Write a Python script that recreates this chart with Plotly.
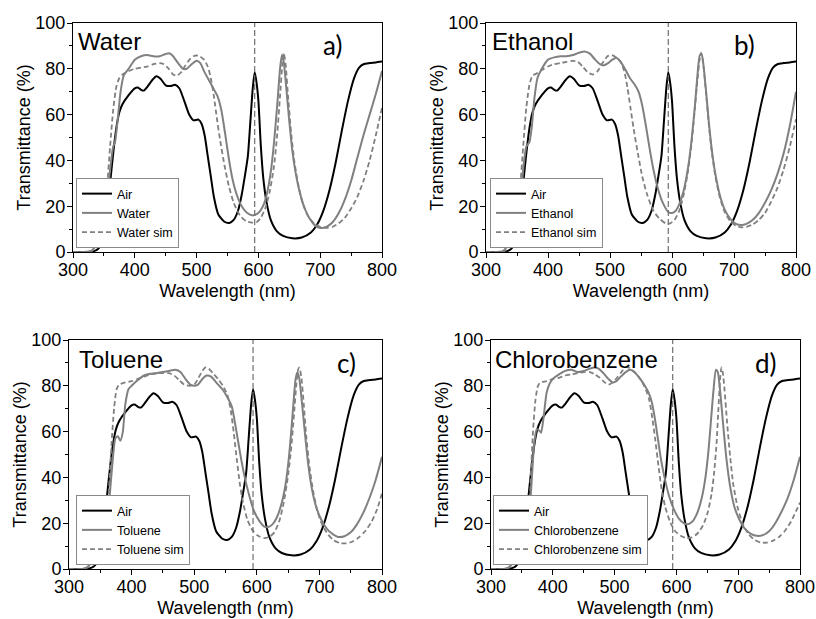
import plotly.graph_objects as go

# Air spectrum (identical measured curve in all four panels)
air_wl = [300, 320, 330, 335, 340, 345, 350, 355, 360, 365, 370, 375, 380, 390, 400, 405, 410, 415,
          420, 428, 435, 442, 450, 458, 465, 472, 480, 488, 495, 503, 508, 513, 518, 523, 528, 535,
          545, 553, 560, 567, 573, 578, 583, 587, 591, 594, 597, 600, 604, 608, 613, 620, 630, 640,
          655, 670, 685, 695, 705, 715, 725, 735, 745, 755, 763, 770, 780, 790, 800]
air_t = [0, 0, 0.2, 0.5, 1.2, 3, 8, 18, 30, 43, 54, 61, 64.5, 68.5, 71.5, 71.8, 70.8, 70.5,
         72, 75, 76.7, 75.5, 72.8, 72.5, 73, 71.5, 66, 60, 57.5, 57.8, 56, 51, 42, 33, 24, 16.5,
         13.2, 12.7, 14, 18, 25, 33, 42, 57, 72, 78.5, 74, 66, 46, 32, 22, 14, 9, 7,
         6, 6.3, 8.5, 12, 18, 27, 39, 53, 66, 76, 80.5, 82, 82.5, 82.8, 83.2]

water_wl = [300, 325, 330, 335, 338, 342, 346, 350, 355, 360, 365, 368, 372, 377, 382, 390, 400, 410,
            420, 430, 440, 450, 456, 462, 470, 478, 484, 492, 500, 506, 512, 520, 528, 534, 540, 546,
            552, 558, 565, 573, 582, 590, 597, 603, 609, 615, 621, 626, 631, 635, 638, 641, 645, 650,
            655, 660, 667, 675, 683, 692, 700, 710, 720, 730, 740, 750, 760, 770, 780, 790, 800]
water_t = [0, 0, 0.5, 2, 3, 2.5, 4, 10, 22, 36, 46, 48, 57, 70, 77, 80, 84, 85.5,
           86, 85.5, 85.5, 86.5, 86.8, 85.5, 82.5, 80, 80, 82, 83.5, 82.5, 79, 75, 71, 68, 62, 52,
           41, 32, 25, 20, 17, 16, 16.5, 18, 21, 27, 37, 50, 66, 80, 86, 83, 72, 57,
           44, 35, 26, 19, 14.5, 11.5, 10.5, 11, 13, 17, 23, 31, 41, 51, 60, 69, 79]

water_sim_wl = [300, 330, 338, 345, 350, 355, 360, 365, 370, 375, 380, 390, 400, 410, 420, 430, 440,
                447, 455, 462, 468, 475, 482, 490, 498, 505, 512, 518, 523, 528, 533, 538, 545, 552,
                560, 570, 580, 590, 597, 604, 611, 618, 625, 630, 635, 639, 641, 644, 648, 653, 658,
                664, 672, 680, 690, 700, 710, 720, 730, 740, 750, 760, 770, 780, 790, 800]
water_sim_t = [0, 0.5, 2, 6, 14, 28, 46, 62, 72, 76, 77.5, 79, 80, 80.5, 81, 82, 82.5,
               82, 80, 77.5, 77, 78.5, 81.5, 84.5, 85.8, 85.5, 84, 81, 76, 68, 58, 49, 38, 29,
               21.5, 16, 13.5, 12.8, 13, 15, 19, 26, 37, 50, 68, 83, 87, 82, 68, 52, 40,
               30, 21, 16, 12.5, 11, 10.5, 11, 12.5, 15, 19, 24, 31, 40, 51, 63]

ethanol_wl = [300, 325, 330, 335, 340, 345, 350, 355, 360, 365, 370, 374, 378, 383, 390, 400, 410,
              420, 430, 440, 450, 460, 468, 476, 484, 490, 497, 504, 510, 516, 524, 532, 540, 546,
              552, 558, 564, 570, 578, 586, 594, 600, 606, 612, 619, 626, 632, 637, 641, 645, 648,
              651, 655, 660, 665, 670, 677, 685, 694, 703, 712, 720, 730, 740, 750, 760, 770, 780,
              790, 800]
ethanol_t = [0, 0, 1, 3, 4.5, 4.5, 8, 20, 36, 46, 48, 55, 67, 76, 80, 84, 85,
             85.5, 85.5, 86, 87, 87.5, 86.5, 84, 82, 81.5, 82.5, 84, 84.8, 83.5, 80, 76, 73, 70,
             64, 55, 45, 36, 27, 21, 17.5, 17, 18, 21, 27, 37, 50, 64, 77, 86, 86,
             81, 70, 55, 43, 34, 25, 18.5, 14.5, 12.3, 11.8, 12.3, 14, 17, 21.5, 27, 34, 43,
             55, 70]

ethanol_sim_wl = [300, 330, 338, 345, 350, 355, 360, 365, 370, 375, 382, 390, 400, 410, 420, 430,
                  440, 448, 456, 464, 472, 480, 488, 496, 503, 510, 517, 523, 528, 533, 538, 545,
                  552, 560, 570, 580, 590, 597, 604, 611, 618, 625, 631, 636, 641, 645, 647, 650,
                  654, 659, 664, 670, 677, 685, 694, 703, 712, 720, 730, 740, 750, 760, 770, 780,
                  790, 800]
ethanol_sim_t = [0, 0.5, 2, 6, 14, 28, 46, 63, 73, 77, 78, 79.5, 81, 82, 82.5, 83,
                 83.5, 83, 81, 78.5, 77.5, 79, 82.5, 85.5, 86, 85, 83, 79, 72, 63, 54, 43,
                 33, 25, 18, 14.5, 12.5, 12.5, 14, 17.5, 24, 34, 46, 60, 75, 85, 87, 83,
                 72, 57, 44, 33, 24, 17.5, 13.5, 11.5, 10.8, 11, 12, 14, 17, 22, 28, 36,
                 46, 58]

toluene_wl = [300, 322, 330, 338, 344, 350, 355, 360, 365, 370, 374, 378, 382, 386, 390, 395, 400,
              410, 420, 430, 440, 450, 460, 470, 478, 486, 494, 500, 506, 513, 520, 527, 535, 545,
              553, 560, 565, 570, 575, 580, 588, 596, 604, 612, 618, 625, 632, 640, 646, 651, 655,
              659, 662, 665, 668, 672, 677, 682, 688, 695, 703, 712, 720, 730, 740, 750, 760, 770,
              780, 790, 800]
toluene_t = [0, 0, 1, 4, 7, 10, 11, 17, 32, 48, 57, 58, 56, 60, 72, 78.5, 80,
             82.5, 84.5, 85.3, 85.5, 86, 86.5, 87, 86, 83, 80.5, 80, 80.5, 83, 84.5, 84, 81.5, 78.5,
             75, 71, 64, 56, 48, 41, 32, 25, 21, 18.5, 18.3, 19.5, 22.5, 29, 37, 48, 60,
             74, 83, 86, 83, 73, 59, 46, 35, 27, 21.5, 17.5, 15.5, 14, 14.3, 16, 19.5, 24.5,
             31, 39, 49]

toluene_sim_wl = [300, 322, 332, 340, 346, 350, 355, 358, 361, 364, 368, 372, 376, 380, 390, 400,
                  410, 420, 430, 440, 450, 460, 468, 476, 484, 492, 500, 507, 513, 518, 523, 530,
                  538, 546, 553, 558, 563, 568, 573, 578, 585, 593, 602, 611, 620, 628, 636, 643,
                  650, 655, 659, 663, 666, 668, 671, 675, 679, 684, 690, 697, 705, 714, 723, 733,
                  743, 753, 763, 773, 783, 792, 800]
toluene_sim_t = [0, 0, 1, 3.5, 7, 9.5, 8.5, 9, 18, 35, 55, 70, 78.5, 80.5, 81.5, 82,
                 83, 84, 85, 85.5, 85.5, 85.5, 84.5, 82.5, 80.5, 80, 80.5, 83.5, 86.5, 88, 87.5, 85.5,
                 83, 80, 76, 70, 60, 48, 37, 29, 21.5, 17, 14.5, 13.5, 14, 16, 21, 29,
                 41, 53, 66, 80, 87, 88, 84, 72, 58, 45, 34, 25, 19, 15, 12.5, 11.3,
                 11.2, 12, 13.8, 16.5, 20.5, 26, 33]

chloro_wl = [300, 322, 330, 338, 344, 350, 355, 360, 365, 370, 374, 378, 381, 385, 390, 395, 400,
             410, 420, 430, 440, 450, 460, 467, 474, 482, 490, 497, 503, 510, 518, 525, 532, 540,
             548, 555, 560, 565, 570, 575, 580, 588, 596, 604, 612, 618, 625, 633, 641, 647, 652,
             656, 660, 664, 667, 671, 676, 681, 687, 694, 702, 711, 720, 730, 740, 750, 760, 770,
             780, 790, 800]
chloro_t = [0, 0, 1, 4, 7, 10, 11, 17, 35, 55, 61, 60.5, 59.5, 66, 77, 81, 83,
            85, 86.5, 87, 86, 86.5, 87.5, 88, 87.5, 85.5, 83, 81.5, 82, 84, 86, 87, 86, 83.5,
            80.5, 77, 73, 66, 57, 48, 41, 32, 26, 22, 20, 19.5, 20.5, 24, 31, 40, 52,
            65, 78, 87, 86, 77, 62, 48, 36, 27, 21.5, 17.5, 15.5, 14.5, 14.8, 16.5, 20, 25,
            31, 39, 49]

chloro_sim_wl = [300, 322, 332, 340, 346, 350, 355, 358, 361, 364, 368, 372, 376, 380, 390, 400,
                 410, 420, 430, 440, 450, 460, 468, 476, 484, 490, 497, 504, 511, 517, 522, 528,
                 536, 544, 551, 556, 561, 566, 571, 576, 582, 590, 598, 607, 616, 625, 634, 643,
                 651, 657, 661, 665, 668, 671, 673, 675, 678, 682, 687, 692, 699, 707, 716, 726,
                 736, 746, 756, 766, 776, 786, 794, 800]
chloro_sim_t = [0, 0, 1, 3.5, 7, 9, 8.5, 9.5, 18, 38, 60, 74, 80, 81.5, 82, 83,
                83.5, 84.5, 85, 85.5, 86, 86, 85, 83.5, 81.5, 80.5, 81.5, 83.5, 86, 88, 88, 87,
                85, 82, 78, 74, 66, 56, 45, 35, 27, 20.5, 16.5, 14.5, 13.5, 13.8, 15.5, 19,
                25, 33, 42, 55, 70, 84, 88, 86, 78, 64, 49, 37, 27, 20, 15.5, 12.8,
                11.6, 11.5, 12.3, 14, 16.8, 21, 25.5, 29]

solvents = ["Water", "Ethanol", "Toluene", "Chlorobenzene"]
letters = ["a)", "b)", "c)", "d)"]
exp_data = [(water_wl, water_t), (ethanol_wl, ethanol_t), (toluene_wl, toluene_t), (chloro_wl, chloro_t)]
sim_data = [(water_sim_wl, water_sim_t), (ethanol_sim_wl, ethanol_sim_t),
            (toluene_sim_wl, toluene_sim_t), (chloro_sim_wl, chloro_sim_t)]
ref_wl = 594  # dashed marker at the Air peak

W, H = 816, 619
FONT = "Liberation Sans, Arial, sans-serif"
# plot boxes in pixels: left, top, right, bottom
boxes = [(73, 23, 382, 252), (486, 23, 796, 252), (69, 340, 382, 569), (491, 340, 800, 569)]
legend_pos = [(76, 178), (490, 178), (76, 495), (493, 495)]
name_pos = [(76, 26), (490, 26), (77, 344), (493, 344)]
letter_pos = [(344, 27), (757, 27), (358, 345), (779, 345)]

fig = go.Figure()
annotations = []
shapes = []
for i, solvent in enumerate(solvents):
    n = "" if i == 0 else str(i + 1)
    xa, ya = "x" + n, "y" + n
    lg = "legend" + n
    fig.add_trace(go.Scatter(x=air_wl, y=air_t, name="Air", xaxis=xa, yaxis=ya, legend=lg,
                             mode="lines", line=dict(color="black", width=2, shape="spline", smoothing=0.6)))
    fig.add_trace(go.Scatter(x=exp_data[i][0], y=exp_data[i][1], name=solvent, xaxis=xa, yaxis=ya,
                             legend=lg, mode="lines",
                             line=dict(color="#808080", width=2, shape="spline", smoothing=0.6)))
    fig.add_trace(go.Scatter(x=sim_data[i][0], y=sim_data[i][1], name=solvent + " sim", xaxis=xa,
                             yaxis=ya, legend=lg, mode="lines",
                             line=dict(color="#808080", width=1.8, dash="5px,3px", shape="spline",
                                       smoothing=0.6)))

    l, t, r, b = boxes[i]
    axis_common = dict(showline=True, linecolor="black", linewidth=1, mirror=True, ticks="outside",
                       ticklen=5, tickcolor="black", showgrid=False, zeroline=False, automargin=False,
                       tickfont=dict(size=18, color="black", family=FONT))
    fig.layout["xaxis" + n] = dict(
        axis_common, domain=[l / W, r / W], anchor=ya, range=[300, 800], dtick=100, tick0=300,
        ticklabelstandoff=-4,
        minor=dict(dtick=50, ticks="outside", ticklen=3, tickcolor="black"),
        title=dict(text="Wavelength (nm)", font=dict(size=18, color="black", family=FONT), standoff=5))
    fig.layout["yaxis" + n] = dict(
        axis_common, domain=[1 - b / H, 1 - t / H], anchor=xa, range=[0, 100], dtick=20,
        ticklabelstandoff=-2,
        minor=dict(dtick=10, ticks="outside", ticklen=3, tickcolor="black"),
        title=dict(text="Transmittance (%)", font=dict(size=18, color="black", family=FONT), standoff=0))

    lx, ly = legend_pos[i]
    fig.layout[lg] = dict(x=lx / W, y=1 - ly / H, xanchor="left", yanchor="top", bgcolor="white",
                          bordercolor="#8a8a8a", borderwidth=1, tracegroupgap=0, itemwidth=30,
                          font=dict(size=12.5, color="black", family=FONT))

    shapes.append(dict(type="line", xref=xa, yref=ya, x0=ref_wl, x1=ref_wl, y0=0, y1=100,
                       line=dict(color="#707070", width=1.2, dash="6px,3px")))

    nx, ny = name_pos[i]
    annotations.append(dict(text=solvent, xref="paper", yref="paper", x=nx / W, y=1 - ny / H,
                            xanchor="left", yanchor="top", showarrow=False,
                            font=dict(size=24, color="black", family=FONT)))
    px, py = letter_pos[i]
    annotations.append(dict(text=letters[i], xref="paper", yref="paper", x=px / W, y=1 - py / H,
                            xanchor="right", yanchor="top", showarrow=False,
                            font=dict(size=26, color="black", family="Lato, sans-serif")))

fig.update_layout(width=W, height=H, margin=dict(l=0, r=0, t=0, b=0), paper_bgcolor="white",
                  plot_bgcolor="white", annotations=annotations, shapes=shapes,
                  font=dict(family=FONT, color="black"))
# the page body has a default 8px margin; drop it so the figure fills the window
fig.write_html("out.html", config={"displayModeBar": False},
               post_script="document.body.style.margin='0px';")
